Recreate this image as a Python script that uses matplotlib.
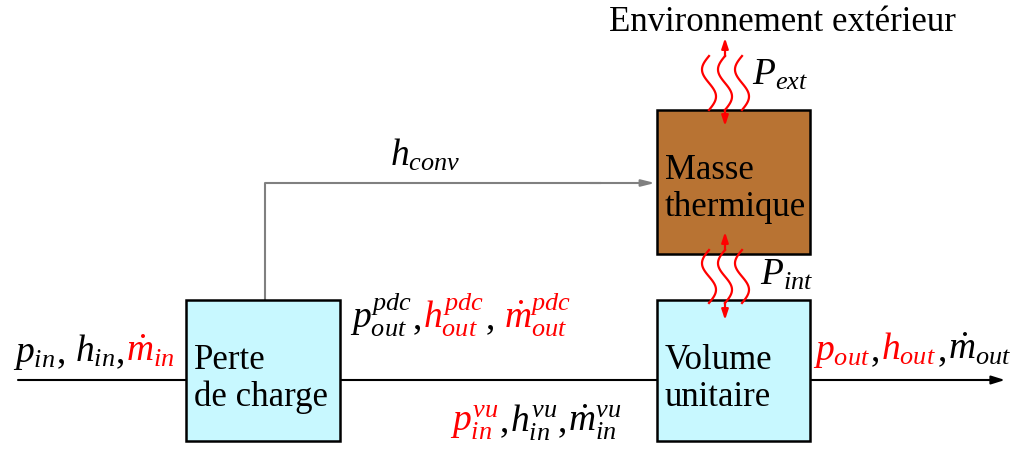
import numpy as np
import matplotlib.pyplot as plt
from matplotlib.patches import Rectangle

plt.rcParams['mathtext.fontset'] = 'custom'
plt.rcParams['mathtext.rm'] = 'Liberation Serif'
plt.rcParams['mathtext.it'] = 'Liberation Serif:italic'
plt.rcParams['font.family'] = 'Liberation Serif'

CYAN = '#c8f8ff'
COPPER = '#b87333'
RED = '#ff0000'

# blocks: (label, x, y, w, h, fill)
blocks = [("Perte\nde charge", 186, 300, 154, 141, CYAN),
          ("Volume\nunitaire", 657, 300, 153, 141, CYAN),
          ("Masse\nthermique", 657, 110, 153, 144, COPPER)]

# flow labels, list of (text, colour, gap after) pieces
lab_in = [(r"$p_{in}$", 'k', 0), (",", 'k', 8), (r"$h_{in}$", 'k', 0), (",", 'k', 0),
          (r"$\dot{m}_{in}$", RED, 0)]
lab_pdc = [(r"$p^{pdc}_{out}$", 'k', 0), (",", 'k', 0), (r"$h^{pdc}_{out}$", RED, 0),
           (",", 'k', 8), (r"$\dot{m}^{pdc}_{out}$", RED, 0)]
lab_vu = [(r"$p^{vu}_{in}$", RED, 0), (",", 'k', 0), (r"$h^{vu}_{in}$", 'k', 0),
          (",", 'k', 0), (r"$\dot{m}^{vu}_{in}$", 'k', 0)]
lab_out = [(r"$p_{out}$", RED, 0), (",", 'k', 0), (r"$h_{out}$", RED, 0),
           (",", 'k', 0), (r"$\dot{m}_{out}$", 'k', 0)]

fig = plt.figure(figsize=(10.12, 4.51), dpi=100)
ax = fig.add_axes([0, 0, 1, 1])
ax.set_xlim(0, 1012)
ax.set_ylim(451, 0)
ax.axis('off')

FS = 25
FM = 27

# main flow line
ax.annotate('', xy=(1005, 380), xytext=(18, 380),
            arrowprops=dict(arrowstyle='-|>,head_length=0.8,head_width=0.25', color='k', lw=1.5,
                            shrinkA=0, shrinkB=0), zorder=1)

# convective link
ax.plot([265, 265, 600], [300, 183, 183], color='gray', lw=1.5, zorder=1)
ax.annotate('', xy=(655, 183), xytext=(590, 183),
            arrowprops=dict(arrowstyle='-|>,head_length=0.8,head_width=0.2', color='gray', lw=1.5,
                            shrinkA=0, shrinkB=0), zorder=1)
ax.text(425, 166, r"$h_{conv}$", fontsize=FM, ha='center', va='baseline')

for txt, x, y, w, h, c in blocks:
    ax.add_patch(Rectangle((x, y), w, h, facecolor=c, edgecolor='k', lw=1.8, zorder=2))
    l1, l2 = txt.split('\n')
    ax.text(x + 8, y + 69, l1, fontsize=FS, ha='left', va='baseline', zorder=3)
    ax.text(x + 8, y + 106, l2, fontsize=FS, ha='left', va='baseline', zorder=3)

ax.text(782, 31, "Environnement extérieur", fontsize=FS, ha='center', va='baseline')


def wavy(x0, y0, y1, both=False, y_top=None, y_bot=None):
    t = np.linspace(0, 1, 100)
    y = y0 + (y1 - y0) * t
    x = x0 - 7 * np.sin(2 * np.pi * t)
    ax.plot(x, y, color=RED, lw=1.6, zorder=4)
    if both:
        ax.plot([x0, x0], [y_top + 8, y0], color=RED, lw=1.6, zorder=4)
        ax.plot([x0, x0], [y1, y_bot - 8], color=RED, lw=1.6, zorder=4)
        for a, b in [(y_top + 12, y_top), (y_bot - 12, y_bot)]:
            ax.annotate('', xy=(x0, b), xytext=(x0, a),
                        arrowprops=dict(arrowstyle='-|>,head_length=0.6,head_width=0.2',
                                        color=RED, lw=1.6, shrinkA=0, shrinkB=0), zorder=5)


for xc in [709, 725, 742]:
    wavy(xc, 56, 110, both=(xc == 725), y_top=38, y_bot=126)
for xc in [709, 725, 742]:
    wavy(xc, 250, 303, both=(xc == 725), y_top=232, y_bot=320)

ax.text(752, 85, r"$P_{ext}$", fontsize=FM, va='baseline')
ax.text(760, 285, r"$P_{int}$", fontsize=FM, va='baseline')

renderer = fig.canvas.get_renderer()


def pieces(x, y, parts):
    for s, c, gap in parts:
        t = ax.text(x, y, s, color=c, fontsize=FM, va='baseline', zorder=6)
        x += t.get_window_extent(renderer).width + 1 + gap


pieces(13, 362, lab_in)
pieces(350, 328, lab_pdc)
pieces(450, 431, lab_vu)
pieces(813, 360, lab_out)

fig.savefig('out.png', dpi=100)
